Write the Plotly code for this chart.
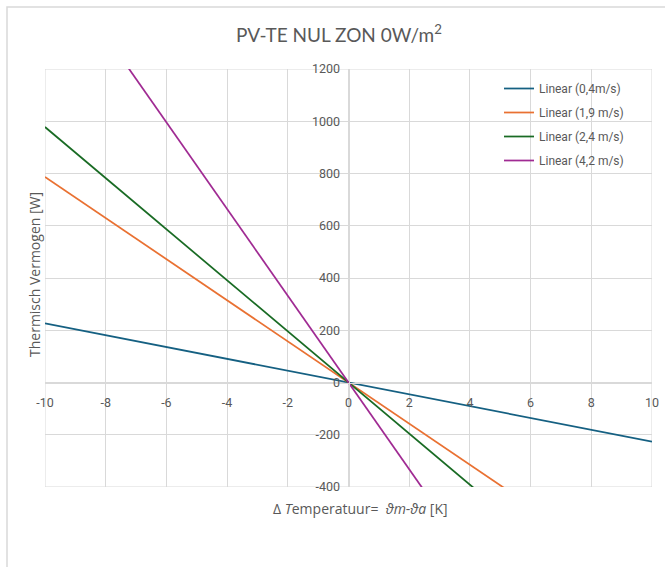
import plotly.graph_objects as go

# Data: linear trendlines, endpoints at x = -10 and x = 10
x_ends = [-10, 10]
names = ["Linear (0,4m/s)", "Linear (1,9 m/s)", "Linear (2,4 m/s)", "Linear (4,2 m/s)"]
y_blue = [226, -226]
y_orange = [787, -787]
y_green = [978, -978]
y_purple = [1660, -1660]
series = [y_blue, y_orange, y_green, y_purple]
colors = ["#156082", "#E97132", "#196B24", "#A02B93"]

x_ticks = [-10, -8, -6, -4, -2, 0, 2, 4, 6, 8, 10]
x_ticktext = ["-10", "-8", "-6", "-4", "-2", "0", "2", "4", "6", "8", "10"]
y_ticks = [-400, -200, 0, 200, 400, 600, 800, 1000, 1200]
y_ticktext = ["-400", "-200", "0", "200", "400", "600", "800", "1000", "1200"]

W, H = 665, 567
L, R, T, B = 45, 13, 69, 80
pw, ph = W - L - R, H - T - B

def px_x(p):
    return (p - L) / pw

def px_y(p):
    return (H - B - p) / ph

fig = go.Figure()
for i, (ys, nm, c) in enumerate(zip(series, names, colors)):
    fig.add_trace(go.Scatter(x=x_ends, y=ys, mode="lines", name=nm,
                             line=dict(color=c, width=1.75),
                             legendgroup=f"g{i}"))

grid = "#D9D9D9"
tickfont = dict(family="Liberation Sans Narrow, Roboto, sans-serif", size=12.5, color="#595959")

fig.update_layout(
    width=W, height=H,
    margin=dict(l=L, r=R, t=T, b=B, autoexpand=False),
    paper_bgcolor="white", plot_bgcolor="white",
    showlegend=True,
    legend=dict(x=px_x(499), y=px_y(74), xanchor="left", yanchor="top",
                bgcolor="rgba(0,0,0,0)", font=dict(family="Liberation Sans Narrow, Roboto, sans-serif",
                                                    size=12, color="#595959"),
                tracegroupgap=5, traceorder="grouped", itemwidth=30),
    xaxis=dict(range=[-10, 10], tickvals=x_ticks, ticktext=x_ticktext,
               showgrid=True, gridcolor=grid, gridwidth=1, automargin=False,
               zeroline=False, showline=True, linecolor=grid, linewidth=1,
               anchor="free", position=0.25, ticks="outside", ticklen=8,
               tickcolor="rgba(0,0,0,0)", tickfont=tickfont, mirror=False),
    yaxis=dict(range=[-400, 1200], tickvals=y_ticks, ticktext=y_ticktext,
               showgrid=True, gridcolor=grid, gridwidth=1, automargin=False,
               zeroline=False, showline=True, linecolor=grid, linewidth=1,
               anchor="free", position=0.5, ticks="outside", ticklen=6,
               tickcolor="rgba(0,0,0,0)", tickfont=tickfont),
)

fig.add_shape(type="rect", xref="x", yref="y", x0=-10, x1=10, y0=-400, y1=1200,
              line=dict(color=grid, width=1), layer="below")

# chart border (partially visible at left/top)
fig.add_shape(type="path", xref="paper", yref="paper",
              path=f"M {px_x(7)} {px_y(580)} L {px_x(7)} {px_y(7)} L {px_x(680)} {px_y(7)}",
              line=dict(color="#D9D9D9", width=1.5))

fig.add_annotation(text="PV-TE NUL ZON 0W/m<sup>2</sup>", xref="paper", yref="paper",
                   x=px_x(339), y=px_y(33), showarrow=False, xanchor="center", yanchor="middle",
                   font=dict(family="Lato, Open Sans, sans-serif", size=19, color="#595959"))
fig.add_annotation(text="Thermisch Vermogen [W]", xref="paper", yref="paper",
                   x=px_x(34), y=px_y(275), showarrow=False, textangle=-90,
                   xanchor="center", yanchor="middle",
                   font=dict(family="Open Sans, Lato, sans-serif", size=14, color="#595959"))
fig.add_annotation(text="Δ <i>T</i>emperatuur=  <i>ϑm</i>-<i>ϑa</i> [K]", xref="paper", yref="paper",
                   x=px_x(360), y=px_y(508), showarrow=False, xanchor="center", yanchor="middle",
                   font=dict(family="Open Sans, Lato, sans-serif", size=14, color="#595959"))

fig.write_html("out.html", config={"displayModeBar": False},
               post_script="document.body.style.margin='0';document.body.style.overflow='hidden';")
